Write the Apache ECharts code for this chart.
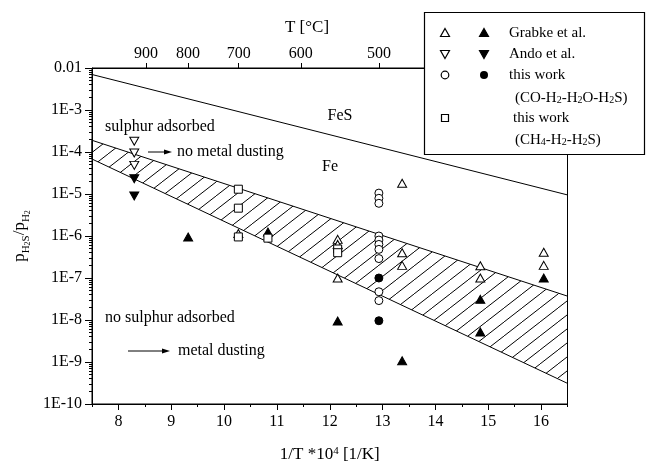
<!DOCTYPE html>
<html>
<head>
<meta charset="utf-8">
<script src="https://cdn.jsdelivr.net/npm/echarts@6/dist/echarts.min.js"></script>
<style>
  html, body { margin: 0; padding: 0; background: #fff; }
  #chart { width: 647px; height: 470px; }
</style>
</head>
<body>
<div id="chart"></div>
<script>
// x ticks (1/T * 1e4) and top temperature ticks
const xTicks = [8, 9, 10, 11, 12, 13, 14, 15, 16];
const tempTicks = [900, 800, 700, 600, 500];
const yExps = [-10, -9, -8, -7, -6, -5, -4, -3, -2];
const yTickLabels = ['1E-10', '1E-9', '1E-8', '1E-7', '1E-6', '1E-5', '1E-4', '1E-3', '0.01'];

// FeS / Fe equilibrium line
const fesX = [7.5, 16.5];
const fesY = [7e-3, 9.5e-6];

// hatched band (sulphur adsorption limit)
const bandX = [7.5, 16.5];
const bandUpper = [1.9e-4, 3.7e-8];
const bandLower = [6.8e-5, 3.1e-10];

// Grabke et al.
const grabkeOpen = [
    [10.27, 1.15e-6],
    [12.15, 8.3e-7], [12.15, 6.3e-7], [12.15, 1.0e-7],
    [13.37, 1.8e-5], [13.37, 4.0e-7], [13.37, 2.0e-7],
    [14.85, 1.95e-7], [14.85, 1.0e-7],
    [16.05, 4.1e-7], [16.05, 2.0e-7]
];
const grabkeFilled = [
    [9.32, 9.5e-7], [10.83, 1.25e-6], [12.15, 9.5e-9], [13.37, 1.07e-9],
    [14.85, 3.1e-8], [14.85, 5.2e-9], [16.05, 1.0e-7]
];
// Ando et al.
const andoOpen = [[8.3, 1.8e-4], [8.3, 9.5e-5], [8.3, 4.8e-5]];
const andoFilled = [[8.3, 2.3e-5], [8.3, 9.0e-6]];
// this work (CO-H2-H2O-H2S)
const coOpen = [
    [12.93, 1.05e-5], [12.93, 7.9e-6], [12.93, 6.0e-6],
    [12.93, 1.0e-6], [12.93, 8.0e-7], [12.93, 6.3e-7], [12.93, 4.8e-7], [12.93, 2.9e-7],
    [12.93, 4.7e-8], [12.93, 2.9e-8]
];
const coFilled = [[12.93, 1.0e-7], [12.93, 9.6e-9]];
// this work (CH4-H2-H2S)
const ch4Open = [
    [10.27, 1.3e-5], [10.27, 4.6e-6], [10.27, 9.5e-7],
    [10.83, 8.9e-7], [12.15, 4.9e-7], [12.15, 4.0e-7]
];

const FONT = 'Liberation Serif';
const tempPos = tempTicks.map(t => 1e4 / (t + 273.15));
const yMinor = [];
yExps.slice(0, -1).forEach(function (e) {
    for (let k = 2; k <= 9; k++) yMinor.push(k * Math.pow(10, e));
});
const xMinor = [];
for (let v = 7.5; v <= 16.5; v += 1) xMinor.push(v);

// hatch pattern for the band
const hatch = document.createElement('canvas');
hatch.width = 18; hatch.height = 14;
(function () {
    const ctx = hatch.getContext('2d');
    ctx.strokeStyle = '#000';
    ctx.lineWidth = 1;
    ctx.beginPath();
    ctx.moveTo(-18, 28); ctx.lineTo(36, -14);
    ctx.stroke();
})();

const sup = { fontSize: 11, fontFamily: FONT, verticalAlign: 'top', lineHeight: 12, color: '#000' };

function scatter(name, data, symbol, filled, rotate, size) {
    return {
        name: name, type: 'scatter', data: data,
        symbol: symbol, symbolSize: size, symbolRotate: rotate || 0,
        itemStyle: { color: filled ? '#000' : '#fff', borderColor: '#000', borderWidth: 1, opacity: 1 },
        z: 5
    };
}

// legend drawn as graphic (two symbols per row)
function lTri(x, y, filled, down) {
    const d = down ? -1 : 1;
    return {
        type: 'polygon', z: 101,
        shape: { points: [[x, y - 4.5 * d], [x + 4.5, y + 3.5 * d], [x - 4.5, y + 3.5 * d]] },
        style: { fill: filled ? '#000' : '#fff', stroke: '#000', lineWidth: 1.2 }
    };
}
function lText(x, y, text) {
    return {
        type: 'text', x: x, y: y, z: 101,
        style: {
            text: text, font: '15px ' + FONT, fill: '#000', verticalAlign: 'middle',
            rich: { s: { fontSize: 10, fontFamily: FONT, verticalAlign: 'bottom', lineHeight: 12 } }
        }
    };
}
function arrow(x1, x2, y) {
    return [
        { type: 'line', shape: { x1: x1, y1: y, x2: x2 - 6, y2: y }, style: { stroke: '#000', lineWidth: 1 } },
        { type: 'polygon', shape: { points: [[x2, y], [x2 - 8, y - 2.5], [x2 - 8, y + 2.5]] }, style: { fill: '#000' } }
    ];
}
function note(x, y, text, align) {
    return {
        type: 'text', x: x, y: y,
        style: { text: text, font: '16px ' + FONT, fill: '#000', verticalAlign: 'middle', align: align || 'left' }
    };
}

var option = {
    animation: false,
    backgroundColor: '#fff',
    grid: { left: 86.6, right: 79.5, top: 68, bottom: 66, show: true, borderColor: '#000', borderWidth: 1 },
    xAxis: [
        {
            type: 'value', min: 7.5, max: 16.5, position: 'bottom',
            axisLine: { lineStyle: { color: '#000' } },
            axisTick: { customValues: xTicks, length: 6, lineStyle: { color: '#000' } },
            axisLabel: {
                customValues: xTicks, color: '#000', fontFamily: FONT, fontSize: 16, margin: 10
            },
            splitLine: { show: false },
            name: '1/T *10{sup|4} [1/K]', nameLocation: 'middle', nameGap: 42,
            nameTextStyle: { color: '#000', fontFamily: FONT, fontSize: 17, rich: { sup: sup } }
        },
        {
            type: 'value', min: 7.5, max: 16.5, position: 'top',
            axisLine: { lineStyle: { color: '#000' } },
            axisTick: { customValues: tempPos, length: 5, lineStyle: { color: '#000' } },
            axisLabel: {
                customValues: tempPos, color: '#000', fontFamily: FONT, fontSize: 16, margin: 6,
                formatter: function (v) {
                    let best = 0;
                    tempPos.forEach(function (p, i) { if (Math.abs(p - v) < Math.abs(tempPos[best] - v)) best = i; });
                    return String(tempTicks[best]);
                }
            },
            splitLine: { show: false }
        },
        {
            type: 'value', min: 7.5, max: 16.5, position: 'bottom',
            axisLine: { show: false },
            axisTick: { customValues: xMinor, length: 3, lineStyle: { color: '#000' } },
            axisLabel: { show: false },
            splitLine: { show: false }
        }
    ],
    yAxis: [
        {
            type: 'log', logBase: 10, min: 1e-10, max: 1e-2,
            axisLine: { lineStyle: { color: '#000' } },
            axisTick: { length: 7, lineStyle: { color: '#000' } },
            axisLabel: {
                color: '#000', fontFamily: FONT, fontSize: 16, margin: 10,
                formatter: function (v) {
                    const e = Math.round(Math.log10(v));
                    const i = yExps.indexOf(e);
                    return i >= 0 ? yTickLabels[i] : '';
                }
            },
            splitLine: { show: false },
            name: 'p{s|H}{ss|2}{s|S}/p{s|H}{ss|2}', nameLocation: 'middle', nameGap: 46,
            nameTextStyle: {
                color: '#000', fontFamily: FONT, fontSize: 17, lineHeight: 24,
                rich: {
                    s: { fontSize: 11, fontFamily: FONT, verticalAlign: 'bottom', lineHeight: 15, color: '#000' },
                    ss: { fontSize: 8, fontFamily: FONT, verticalAlign: 'bottom', lineHeight: 11, color: '#000' }
                }
            }
        },
        {
            type: 'log', logBase: 10, min: 1e-10, max: 1e-2, position: 'left',
            axisLine: { show: false },
            axisTick: { customValues: yMinor, length: 3, lineStyle: { color: '#000' } },
            axisLabel: { show: false },
            splitLine: { show: false }
        }
    ],
    series: [
        {
            type: 'custom', z: 2,
            data: [0],
            renderItem: function (params, api) {
                const up = bandX.map((x, i) => api.coord([x, bandUpper[i]]));
                const lo = bandX.map((x, i) => api.coord([x, bandLower[i]])).reverse();
                return {
                    type: 'polygon',
                    shape: { points: up.concat(lo) },
                    style: { fill: { image: hatch, repeat: 'repeat' }, stroke: '#000', lineWidth: 1 }
                };
            }
        },
        {
            type: 'line', data: fesX.map((x, i) => [x, fesY[i]]),
            symbol: 'none', lineStyle: { color: '#000', width: 1 }, z: 3
        },
        scatter('Grabke open', grabkeOpen, 'triangle', false, 0, [9, 8]),
        scatter('Grabke filled', grabkeFilled, 'triangle', true, 0, [9, 8]),
        scatter('Ando open', andoOpen, 'triangle', false, 180, [9, 8]),
        scatter('Ando filled', andoFilled, 'triangle', true, 180, [9, 8]),
        scatter('CO open', coOpen, 'circle', false, 0, 8),
        scatter('CO filled', coFilled, 'circle', true, 0, 8),
        scatter('CH4', ch4Open, 'rect', false, 0, 8)
    ],
    graphic: [
        { type: 'text', x: 307, y: 28, style: { text: 'T [°C]', font: '17px ' + FONT, fill: '#000', align: 'center', verticalAlign: 'middle' } },
        note(105, 127, 'sulphur adsorbed'),
        note(177, 152, 'no metal dusting'),
        note(330, 167, 'Fe', 'center'),
        note(340, 116, 'FeS', 'center'),
        note(105, 318, 'no sulphur adsorbed'),
        note(178, 351, 'metal dusting')
    ].concat(arrow(148, 172, 152), arrow(128, 170, 351), [
        {
            type: 'rect', z: 100, shape: { x: 424.5, y: 12.5, width: 220, height: 142 },
            style: { fill: '#fff', stroke: '#000', lineWidth: 1.2 }
        },
        lTri(445, 33, false, false), lTri(484, 33, true, false), lText(509, 33, 'Grabke et al.'),
        lTri(445, 54, false, true), lTri(484, 54, true, true), lText(509, 54, 'Ando et al.'),
        { type: 'circle', z: 101, shape: { cx: 445, cy: 75, r: 3.8 }, style: { fill: '#fff', stroke: '#000', lineWidth: 1.2 } },
        { type: 'circle', z: 101, shape: { cx: 484, cy: 75, r: 4 }, style: { fill: '#000' } },
        lText(509, 75, 'this work'),
        lText(515, 98, '(CO-H{s|2}-H{s|2}O-H{s|2}S)'),
        { type: 'rect', z: 101, shape: { x: 441.5, y: 114.5, width: 7, height: 7 }, style: { fill: '#fff', stroke: '#000', lineWidth: 1.2 } },
        lText(513, 118, 'this work'),
        lText(515, 140, '(CH{s|4}-H{s|2}-H{s|2}S)')
    ])
};

var myChart = echarts.init(document.getElementById('chart'));
myChart.setOption(option);
</script>
</body>
</html>
